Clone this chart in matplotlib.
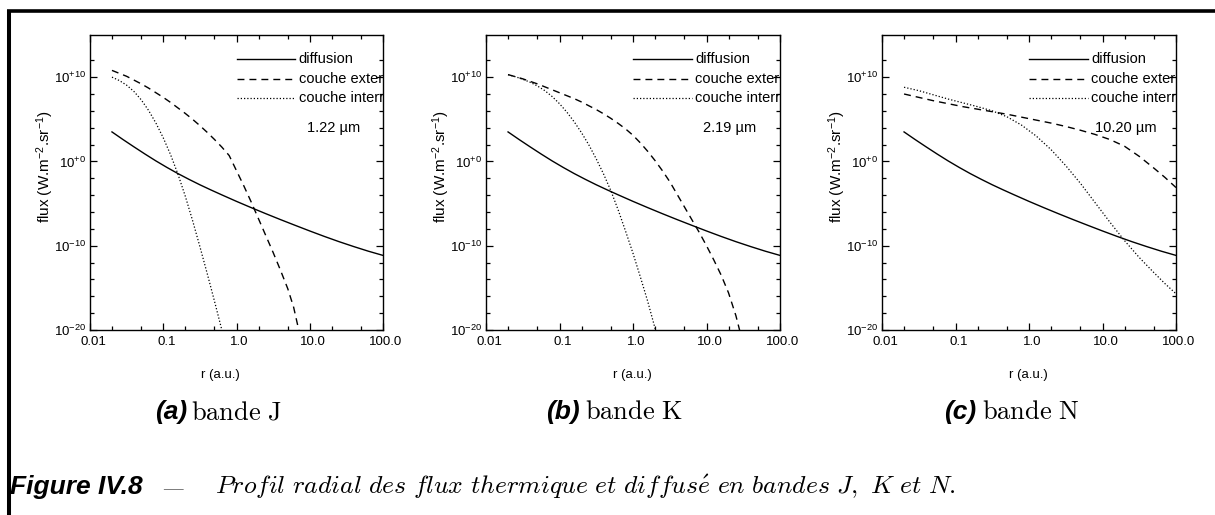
import matplotlib
matplotlib.use("Agg")
import matplotlib.pyplot as plt
import numpy as np
from matplotlib.lines import Line2D
from matplotlib.transforms import ScaledTranslation
from matplotlib.ticker import FixedLocator, NullFormatter, FixedFormatter

plt.rcParams['font.family'] = ['Liberation Sans', 'DejaVu Sans']
plt.rcParams['mathtext.fontset'] = 'custom'
plt.rcParams['mathtext.rm'] = 'Liberation Sans'
plt.rcParams['mathtext.it'] = 'Liberation Sans:italic'
plt.rcParams['mathtext.bf'] = 'Liberation Sans:bold'
plt.rcParams['mathtext.default'] = 'rm'

# ---------------- data (log10 r [a.u.], log10 flux [W m-2 sr-1]) ----------------
diff_logr = [-1.70, -1.55, -1.40, -1.25, -1.10, -0.95, -0.80, -0.65, -0.50, -0.35, -0.20,
             0.00, 0.20, 0.40, 0.60, 0.80, 1.00, 1.20, 1.40, 1.60, 1.80, 2.00]
diff_logf = [3.5, 2.6, 1.73, 0.88, 0.06, -0.71, -1.44, -2.12, -2.77, -3.38, -3.97,
             -4.74, -5.48, -6.2, -6.9, -7.58, -8.25, -8.9, -9.52, -10.1, -10.65, -11.15]

# band J (1.22 um)
extJ_logr = [-1.7, -1.6, -1.5, -1.4, -1.3, -1.2, -1.1, -1.0, -0.9, -0.8, -0.7, -0.6,
             -0.5, -0.4, -0.3, -0.2, -0.1, 0.0, 0.1, 0.2, 0.3, 0.4, 0.5, 0.6, 0.7,
             0.78, 0.85, 0.9]
extJ_logf = [10.8, 10.45, 10.1, 9.65, 9.2, 8.7, 8.15, 7.6, 7.0, 6.35, 5.7, 5.0,
             4.25, 3.45, 2.6, 1.7, 0.7, -1.1, -2.9, -4.8, -6.8, -8.8, -10.8, -12.9, -15.1,
             -17.3, -20.0, -22.0]
intJ_logr = [-1.7, -1.6, -1.5, -1.4, -1.3, -1.2, -1.1, -1.0, -0.9, -0.8, -0.7, -0.6,
             -0.5, -0.4, -0.3, -0.2, -0.15]
intJ_logf = [10.0, 9.6, 9.05, 8.3, 7.3, 6.05, 4.55, 2.8, 0.8, -1.5, -4.1, -7.0,
             -10.1, -13.3, -16.6, -20.0, -21.8]

# band K (2.19 um)
extK_logr = [-1.7, -1.6, -1.5, -1.4, -1.3, -1.2, -1.1, -1.0, -0.9, -0.8, -0.7, -0.6,
             -0.5, -0.4, -0.3, -0.2, -0.1, 0.0, 0.1, 0.2, 0.3, 0.4, 0.5, 0.6, 0.7,
             0.8, 0.9, 1.0, 1.1, 1.2, 1.3, 1.4, 1.45, 1.5]
extK_logf = [10.3, 10.05, 9.8, 9.5, 9.2, 8.85, 8.5, 8.15, 7.8, 7.45, 7.05, 6.6,
             6.15, 5.65, 5.1, 4.5, 3.85, 3.1, 2.2, 1.2, 0.1, -1.1, -2.4, -3.9, -5.4,
             -6.9, -8.4, -10.0, -11.7, -13.5, -15.6, -18.3, -20.0, -21.7]
intK_logr = [-1.7, -1.6, -1.5, -1.4, -1.3, -1.2, -1.1, -1.0, -0.9, -0.8, -0.7, -0.6,
             -0.5, -0.4, -0.3, -0.2, -0.1, 0.0, 0.1, 0.2, 0.3, 0.35]
intK_logf = [10.3, 10.05, 9.75, 9.4, 8.95, 8.4, 7.7, 6.85, 5.85, 4.7, 3.4, 1.95,
             0.3, -1.5, -3.5, -5.8, -8.3, -10.9, -13.7, -16.6, -19.8, -21.4]

# band N (10.20 um)
extN_logr = [-1.7, -1.5, -1.3, -1.1, -0.9, -0.7, -0.5, -0.3, -0.1, 0.1, 0.3, 0.5,
             0.7, 0.9, 1.1, 1.3, 1.5, 1.7, 1.85, 2.0]
extN_logf = [8.0, 7.6, 7.2, 6.85, 6.5, 6.2, 5.9, 5.6, 5.25, 4.9, 4.55, 4.15,
             3.7, 3.2, 2.6, 1.8, 0.6, -0.8, -1.9, -3.1]
intN_logr = [-1.7, -1.5, -1.3, -1.1, -0.9, -0.7, -0.5, -0.3, -0.1, 0.1, 0.3, 0.5,
             0.7, 0.9, 1.1, 1.3, 1.5, 1.7, 1.85, 2.0]
intN_logf = [8.8, 8.4, 7.9, 7.4, 6.95, 6.5, 6.0, 5.3, 4.3, 3.0, 1.4, -0.5,
             -2.6, -4.9, -7.2, -9.4, -11.4, -13.2, -14.5, -15.7]

wavelengths = ["1.22 µm", "2.19 µm", "10.20 µm"]
panel_letters = ["(a)", "(b)", "(c)"]
band_names = ["bande J", "bande K", "bande N"]
legend_labels = ["diffusion", "couche exter", "couche interr"]
xtick_vals = [0.01, 0.1, 1.0, 10.0, 100.0]
xtick_labels = ["0.01", "0.1", "1.0", "10.0", "100.0"]
ytick_vals = [1e-20, 1e-10, 1e0, 1e10]
ytick_labels = [r"$10^{-20}$", r"$10^{-10}$", r"$10^{+0}$", r"$10^{+10}$"]

ext_sets = [(extJ_logr, extJ_logf), (extK_logr, extK_logf), (extN_logr, extN_logf)]
int_sets = [(intJ_logr, intJ_logf), (intK_logr, intK_logf), (intN_logr, intN_logf)]

# ---------------- layout ----------------
W, H = 1215, 515
fig = plt.figure(figsize=(W / 100, H / 100), dpi=100)


def fx(p):
    return p / W


def fy(p):
    return 1 - p / H


axes_lr = [(90, 383), (486, 780), (882, 1176)]
ax_top, ax_bot = 35, 330
xlabel_x = [220, 632, 1028]
cap_x = [(187, 191), (580, 585), (976, 982)]

dash_style = (0, (5.0, 3.6))
dot_style = (0, (1.0, 1.6))
shift_right = ScaledTranslation(3 / 100, 0, fig.dpi_scale_trans)

for i, (l, r) in enumerate(axes_lr):
    ax = fig.add_axes([fx(l), fy(ax_bot), (r - l) / W, (ax_bot - ax_top) / H])
    ax.set_xscale('log')
    ax.set_yscale('log')

    ax.plot(10 ** np.array(diff_logr), 10 ** np.array(diff_logf), color='black', lw=1.0)
    er, ef = ext_sets[i]
    ax.plot(10 ** np.array(er), 10 ** np.array(ef), color='black', lw=1.0, linestyle=dash_style)
    ir, iff = int_sets[i]
    ax.plot(10 ** np.array(ir), 10 ** np.array(iff), color='black', lw=0.9, linestyle=dot_style)

    ax.set_xlim(0.01, 100)
    ax.set_ylim(1e-20, 1e15)

    ax.xaxis.set_major_locator(FixedLocator(xtick_vals))
    ax.xaxis.set_major_formatter(FixedFormatter(xtick_labels))
    ax.xaxis.set_minor_locator(FixedLocator([0.02, 0.05, 0.2, 0.5, 2, 5, 20, 50]))
    ax.xaxis.set_minor_formatter(NullFormatter())
    ax.yaxis.set_major_locator(FixedLocator(ytick_vals))
    ax.yaxis.set_major_formatter(FixedFormatter(ytick_labels))
    ax.yaxis.set_minor_locator(FixedLocator([10.0 ** e for e in range(-18, 13, 2) if e % 10 != 0]))
    ax.yaxis.set_minor_formatter(NullFormatter())
    ax.tick_params(which='both', direction='in', top=True, right=True, width=0.9)
    ax.tick_params(which='major', length=4.8, labelsize=9.5)
    ax.tick_params(axis='x', which='major', pad=4.5)
    ax.tick_params(axis='y', which='major', pad=3)
    ax.tick_params(which='minor', length=3.0)
    for lab in ax.get_xticklabels():
        lab.set_transform(lab.get_transform() + shift_right)
    for s in ax.spines.values():
        s.set_linewidth(1.0)

    # y label
    ax.text(-45 / (r - l), 0.553, r"flux (W.m$^{-2}$.sr$^{-1}$)", rotation=90,
            ha='center', va='center', fontsize=11, transform=ax.transAxes)
    # x label
    fig.text(fx(xlabel_x[i]), fy(375), "r (a.u.)", ha='center', va='center', fontsize=9.5)

    # legend (clipped at the right spine)
    rows = [0.919, 0.851, 0.786]
    styles = ['-', dash_style, dot_style]
    widths = [1.0, 1.0, 0.9]
    for y, st, lw, lab in zip(rows, styles, widths, legend_labels):
        ax.plot([0.50, 0.70], [y, y], transform=ax.transAxes, color='black',
                linestyle=st, lw=lw, clip_on=False)
        ax.text(0.712, y, lab, transform=ax.transAxes, ha='left', va='center',
                fontsize=10.5, clip_on=True)
    ax.text(0.83, 0.685, wavelengths[i], transform=ax.transAxes, ha='center',
            va='center', fontsize=10.5)

    # sub-captions
    fig.text(fx(cap_x[i][0]), fy(419), panel_letters[i], ha='right', va='baseline',
             fontsize=19, fontweight='bold', fontstyle='italic')
    fig.text(fx(cap_x[i][1]), fy(419), r"$\mathrm{" + band_names[i].replace(" ", r"\ ") + "}$",
             ha='left', va='baseline', fontsize=19, math_fontfamily='cm')

# figure caption
fig.text(fx(10), fy(494), "Figure IV.8", ha='left', va='baseline', fontsize=19,
         fontweight='bold', fontstyle='italic')
fig.text(fx(163), fy(494), "—", ha='left', va='baseline', fontsize=14, color='#555555',
         family='Liberation Serif')
fig.text(fx(215), fy(494),
         r"$\mathit{Profil\ radial\ des\ flux\ thermique\ et\ diffus\acute{e}\ en\ bandes\ J,\ K\ et\ N.}$",
         ha='left', va='baseline', fontsize=18.5, math_fontfamily='cm')

# page frame (top and left rules)
fig.add_artist(Line2D([fx(7), 1.0], [fy(11), fy(11)], transform=fig.transFigure,
                      color='black', lw=2.6, solid_capstyle='butt'))
fig.add_artist(Line2D([fx(8.5), fx(8.5)], [0.0, fy(9.5)], transform=fig.transFigure,
                      color='black', lw=2.9, solid_capstyle='butt'))

fig.savefig("out.png", dpi=100)
